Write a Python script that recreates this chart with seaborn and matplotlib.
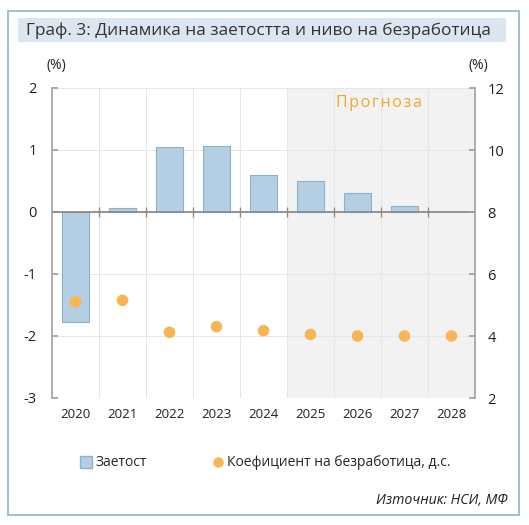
import matplotlib
matplotlib.use("Agg")
import matplotlib.pyplot as plt
import seaborn as sns
import pandas as pd
import numpy as np
from matplotlib.patches import Rectangle
from matplotlib.lines import Line2D

years = ["2020", "2021", "2022", "2023", "2024", "2025", "2026", "2027", "2028"]
employment = [-1.77, 0.07, 1.05, 1.07, 0.60, 0.50, 0.30, 0.10, np.nan]
unemployment = [5.1, 5.15, 4.12, 4.3, 4.17, 4.05, 4.0, 4.0, 4.0]
left_ticks = [-3, -2, -1, 0, 1, 2]
right_ticks = [2, 4, 6, 8, 10, 12]

title = "Граф. 3: Динамика на заетостта и ниво на безработица"
legend_labels = ["Заетост", "Коефициент на безработица, д.с."]
forecast_label = "Прогноза"
source = "Източник: НСИ, МФ"

sns.set_theme(style="white")
FONT = ["Open Sans", "DejaVu Sans"]
plt.rcParams["font.family"] = FONT

df = pd.DataFrame({"year": years, "emp": employment, "unemp": unemployment})

fig = plt.figure(figsize=(5.29, 5.25), dpi=100)
W, H = 529, 525
def fx(x): return x / W
def fy(y): return 1 - y / H

# outer frame and title box
fig.patches.append(Rectangle((fx(8), fy(515)), fx(519) - fx(8), fy(11) - fy(515),
                             transform=fig.transFigure, fill=False, edgecolor="#9DB8CC", lw=1.3))
fig.patches.append(Rectangle((fx(18), fy(42)), fx(506) - fx(18), fy(18) - fy(42),
                             transform=fig.transFigure, facecolor="#DCE6F0", edgecolor="none"))
fig.text(fx(26), fy(30.5), title, fontsize=12.4, color="#333333", va="center", ha="left")

ax = fig.add_axes([fx(52), fy(398), fx(475) - fx(52), fy(88) - fy(398)])
ax.set_facecolor("none")
ax.axvspan(4.5, 8.5, color="#F2F2F2", zorder=0, lw=0)

sns.barplot(data=df, x="year", y="emp", ax=ax, color="#B4CFE3", width=0.57,
            edgecolor="#8DB0CC", linewidth=0.8, saturation=1, zorder=3)
ax.set_xlim(-0.5, 8.5)
ax.set_ylim(-3, 2)
ax.set_yticks(left_ticks)
ax.set_yticklabels([str(t) for t in left_ticks], fontsize=10.5, color="#222222")
ax.set_xlabel("")
ax.set_ylabel("")
ax.set_xticks(range(len(years)))
ax.set_xticklabels(years, fontsize=9.5, color="#222222")
ax.tick_params(axis="x", length=0, pad=7)
ax.tick_params(axis="y", direction="in", length=4, color="#A0A0A0", pad=11, left=True)
ax.set_xticks(np.arange(0.5, 8.5, 1), minor=True)
ax.grid(True, which="minor", axis="x", color="#E6E6E6", lw=0.7, zorder=1)
ax.grid(True, which="major", axis="y", color="#E6E6E6", lw=0.7, zorder=1)
ax.tick_params(axis="x", which="minor", length=0)
for s in ["top", "bottom", "right"]:
    ax.spines[s].set_visible(False)
ax.spines["left"].set_color("#A0A0A0")
ax.spines["left"].set_linewidth(1.2)
ax.axhline(0, color="#8C8C8C", lw=1.3, zorder=4)
ax.plot(np.arange(0.5, 8.5, 1), [0] * 8, ls="none", marker="|", ms=7, mew=1.0,
        color="#8C8C8C", zorder=4)

ax2 = ax.twinx()
sns.scatterplot(data=df, x="year", y="unemp", ax=ax2, color="#F7B654", s=70,
                edgecolor="none", zorder=5, legend=False)
ax2.set_ylim(2, 12)
ax2.set_yticks(right_ticks)
ax2.set_yticklabels([str(t) for t in right_ticks], fontsize=10.5, color="#222222")
ax2.set_ylabel("")
ax2.set_xlabel("")
ax2.tick_params(axis="y", direction="in", length=4, color="#A0A0A0", pad=9, right=True)
for s in ["top", "bottom", "left"]:
    ax2.spines[s].set_visible(False)
ax2.spines["right"].set_color("#A0A0A0")
ax2.spines["right"].set_linewidth(1.2)
ax2.set_xlim(-0.5, 8.5)

fig.text(fx(56), fy(65), "(%)", fontsize=10, color="#222222", ha="center", va="center")
fig.text(fx(478), fy(65), "(%)", fontsize=10, color="#222222", ha="center", va="center")
spaced = "\u200a".join(forecast_label)
ax.text(6.45, 1.75, spaced, fontsize=11.5, color="#F0A830", ha="center", va="center",
        zorder=6, family=["Open Sans", "DejaVu Sans"])

handles = [Line2D([0], [0], marker="s", ls="none", markersize=8, markerfacecolor="#B4CFE3",
                  markeredgecolor="#8DB0CC"),
           Line2D([0], [0], marker="o", ls="none", markersize=7.5, markerfacecolor="#F7B654",
                  markeredgecolor="none")]
fig.legend(handles, legend_labels, loc="center", bbox_to_anchor=(fx(264), fy(463)), ncol=2,
           frameon=False, fontsize=10, handletextpad=0.05, columnspacing=4.5,
           handlelength=1.2)
fig.text(fx(508), fy(500), source, fontsize=10.2, style="italic", color="#222222",
         ha="right", va="center")

fig.savefig("out.png", dpi=100)
